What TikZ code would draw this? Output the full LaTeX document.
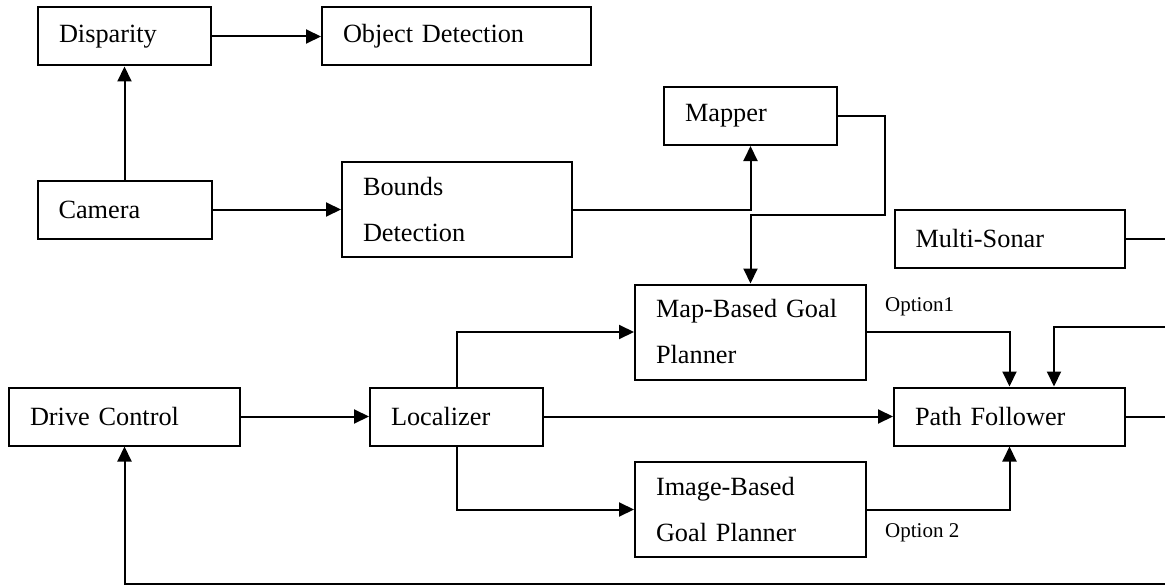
\documentclass[tikz,border=0pt]{standalone}
\usepackage{fontspec}
\setmainfont{Liberation Serif}
\usetikzlibrary{arrows.meta,positioning,calc}
\tikzset{
  blk/.style={draw,line width=2pt,inner xsep=21pt,inner ysep=0pt,
              align=left,minimum height=58pt,
              font=\fontsize{26.3}{46}\selectfont},
  tall/.style={minimum height=95pt},
  arr/.style={-{Triangle[length=15pt,width=14pt]},line width=2pt},
  wire/.style={line width=2pt},
  opt/.style={font=\fontsize{21}{24}\selectfont,inner sep=0pt,anchor=west},
}

\begin{document}
\begin{tikzpicture}[x=1pt,y=-1pt]
  \useasboundingbox (0,0) rectangle (1165,586);

  % vision branch
  \node[blk, text width=131pt] (disp) at (124.5,36.5) {Disparity};
  \node[blk, text width=227pt] (objdet) at (456.5,36.5) {Object Detection};
  \node[blk, text width=132pt] (cam) at (124.5,209.5) {Camera};
  \node[blk, tall, text width=188pt] (bounds) at (457,209.5) {Bounds\\Detection};
  \node[blk, text width=131pt] (mapper) at (750.5,116) {Mapper};
  \node[blk, text width=188pt] (sonar) at (1009.5,239) {Multi-Sonar};

  % planning and control
  \node[blk, tall, text width=189pt] (mapgoal) at (750.5,332) {Map-Based Goal\\Planner};
  \node[blk, text width=189pt] (pathf) at (1009.5,416.5) {Path Follower};
  \node[blk, tall, text width=189pt] (imggoal) at (750.5,509.5) {Image-Based\\Goal Planner};
  \node[blk, text width=189pt] (drive) at (124.5,416.5) {Drive Control};
  \node[blk, text width=131pt] (loc) at (456.5,416.5) {Localizer};

  \node[opt] (opt1) at (885,307) {Option1};
  \node[opt] (opt2) at (885,533) {Option 2};

  % ends running off to the right
  \coordinate (mapbus) at (885,215);
  \coordinate (sonarout) at (1165,239);
  \coordinate (pfin) at (1165,327);
  \coordinate (pfout) at (1165,416.5);
  \coordinate (fbin) at (1165,584);

  \draw[arr] (cam) -- (disp);
  \draw[arr] (disp) -- (objdet);
  \draw[arr] (cam) -- (bounds.west |- cam.east);
  \draw[arr] (bounds.east) -| (mapper.south);
  \draw[arr] (mapper.east) -| (mapbus) -| (mapgoal.north);
  \draw[wire] (sonar.east) -- (sonarout);

  \draw[arr] (drive) -- (loc);
  \draw[arr] (loc) -- (pathf);
  \draw[arr] (loc.north) |- (mapgoal.west);
  \draw[arr] (loc.south) |- (imggoal.west);
  \draw[arr] (mapgoal.east) -| (pathf.north);
  \draw[arr] (imggoal.east) -| (pathf.south);
  \draw[arr] (pfin) -| ([xshift=44.5pt]pathf.north);
  \draw[wire] (pathf.east) -- (pfout);
  \draw[arr] (fbin) -| (drive.south);
\end{tikzpicture}
\end{document}
